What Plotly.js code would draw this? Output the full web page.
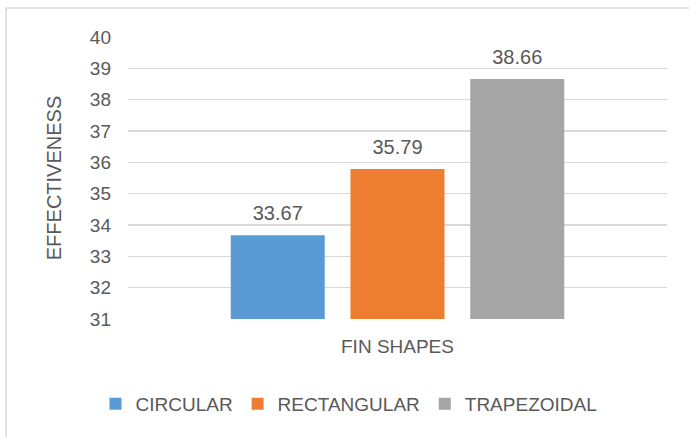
<!DOCTYPE html>
<html>
<head>
<meta charset="utf-8">
<script src="https://cdn.plot.ly/plotly-3.0.1.min.js"></script>
<style>html,body{margin:0;padding:0;background:#fff;}#chart{width:689px;height:437px;}</style>
</head>
<body>
<div id="chart"></div>
<script>
const categories = ['FIN SHAPES'];
const seriesNames = ['CIRCULAR', 'RECTANGULAR', 'TRAPEZOIDAL'];
const circularValues = [33.67];
const rectangularValues = [35.79];
const trapezoidalValues = [38.66];
const yTicks = [31, 32, 33, 34, 35, 36, 37, 38, 39, 40];
const yTitle = 'EFFECTIVENESS';

const seriesValues = [circularValues, rectangularValues, trapezoidalValues];
const colors = ['#5B9BD5', '#ED7D31', '#A5A5A5'];
const FONT = '"Liberation Sans", Arial, sans-serif';
const TXT = '#595959';

const traces = seriesNames.map((name, i) => ({
  type: 'bar',
  name: name,
  x: categories,
  y: seriesValues[i],
  marker: {color: colors[i]},
  texttemplate: '<span style="font-size:20px">%{y:.2f}</span><br>&nbsp;',
  textposition: 'outside',
  textfont: {size: 8, color: TXT, family: FONT},
  constraintext: 'none',
  cliponaxis: false,
  hoverinfo: 'skip'
}));

const layout = {
  width: 689,
  height: 437,
  margin: {l: 128, r: 22, t: 37, b: 118},
  paper_bgcolor: '#FFFFFF',
  plot_bgcolor: '#FFFFFF',
  font: {family: FONT, color: TXT, size: 19},
  barmode: 'group',
  bargap: 0.3335,
  bargroupgap: 0.215,
  showlegend: true,
  legend: {
    orientation: 'h',
    x: 0.41, xanchor: 'center',
    y: -0.301, yanchor: 'middle',
    font: {size: 19, color: TXT, family: FONT},
    itemwidth: 30,
    traceorder: 'normal'
  },
  xaxis: {
    type: 'category',
    showticklabels: false,
    showgrid: false,
    zeroline: false,
    showline: false,
    ticks: '',
    title: {text: categories[0], font: {size: 19, color: TXT, family: FONT}, standoff: 20}
  },
  yaxis: {
    range: [31, 40],
    tickvals: yTicks,
    ticktext: yTicks.map(String),
    showgrid: true,
    gridcolor: '#D9D9D9',
    gridwidth: 1.3,
    zeroline: false,
    showline: false,
    ticks: '',
    ticklabelstandoff: 16,
    tickfont: {size: 19, color: TXT, family: FONT},
    title: {text: yTitle, font: {size: 20, color: TXT, family: FONT}, standoff: 22}
  },
  shapes: [{
    type: 'rect', xref: 'paper', yref: 'paper',
    x0: -0.2263, x1: 1.2, y0: -0.6, y1: 1.1028,
    line: {color: '#D9D9D9', width: 1.5},
    fillcolor: 'rgba(0,0,0,0)',
    layer: 'below'
  }]
};

Plotly.newPlot('chart', traces, layout, {displayModeBar: false, staticPlot: true});
</script>
</body>
</html>
